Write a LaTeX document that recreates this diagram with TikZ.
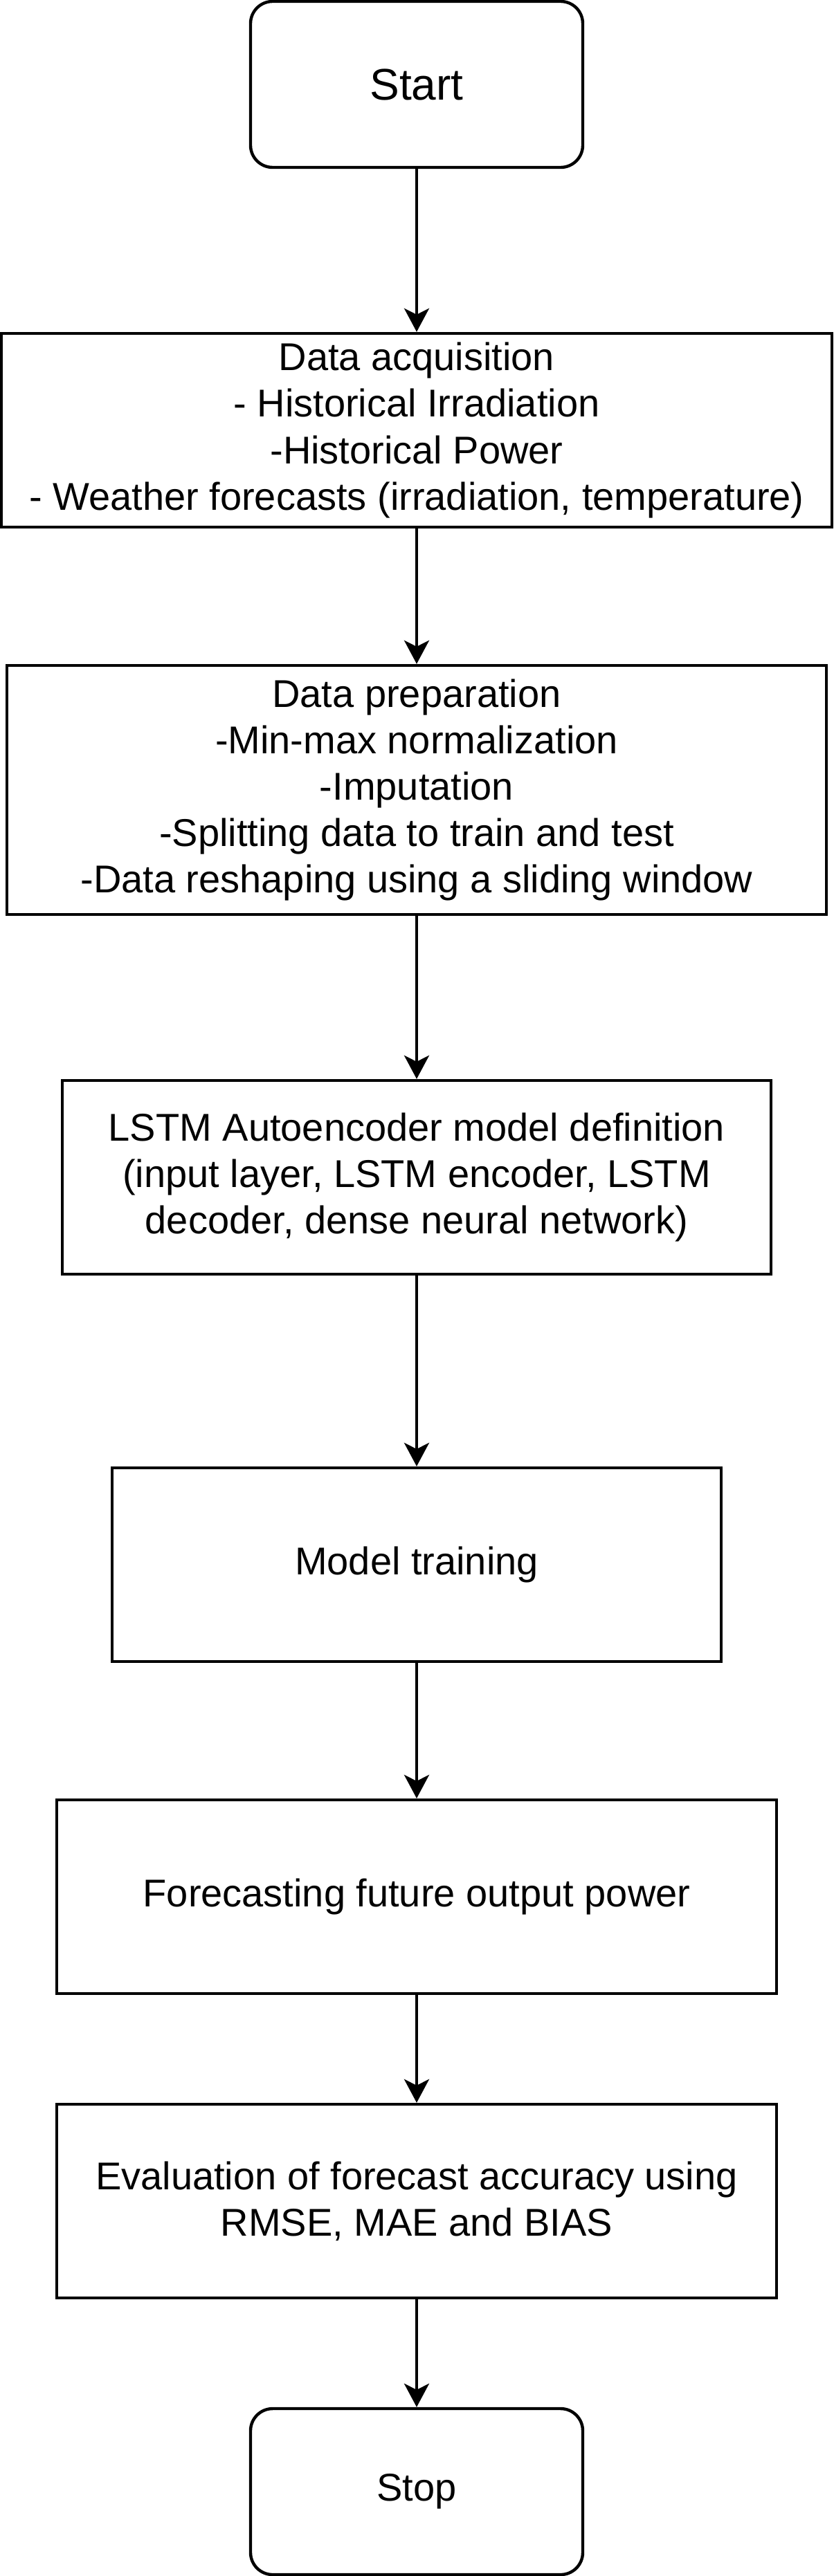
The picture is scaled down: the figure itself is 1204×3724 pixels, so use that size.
\documentclass[tikz,border=0pt]{standalone}
\usepackage{fontspec}
\setmainfont{Liberation Sans}
\usetikzlibrary{arrows.meta,positioning}

\begin{document}
\begin{tikzpicture}[x=0.5pt, y=-0.5pt, line width=2.2pt, >={Stealth[length=17pt,width=18pt,inset=4.5pt]},
  every text node part/.style={align=center}, font=\fontsize{28}{33.6}\selectfont,
  term/.style={draw, rectangle, rounded corners=16pt, minimum width=240pt, minimum height=120pt, inner sep=0pt},
  stage/.style={draw, rectangle, minimum height=140pt, inner sep=0pt}]
\useasboundingbox (0,0) rectangle (1204,3724);
\draw
  node (start) at (602,122)[term, font=\fontsize{32}{38.4}\selectfont]{Start}
  node (acq) at (602,622)[stage, minimum width=600pt]{Data acquisition\\- Historical Irradiation\\-Historical Power\\- Weather forecasts (irradiation, temperature)}
  node (prep) at (602,1142)[stage, minimum width=592pt, minimum height=180pt]{Data preparation\\-Min-max normalization\\-Imputation\\-Splitting data to train and test\\-Data reshaping using a sliding window}
  node (model) at (602,1702)[stage, minimum width=512pt]{LSTM Autoencoder model definition\\(input layer, LSTM encoder, LSTM\\decoder, dense neural network)}
  node (train) at (602,2262)[stage, minimum width=440pt]{Model training}
  node (fcast) at (602,2742)[stage, minimum width=520pt]{Forecasting future output power}
  node (eval) at (602,3182)[stage, minimum width=520pt]{Evaluation of forecast accuracy using\\RMSE, MAE and BIAS}
  node (stop) at (602,3602)[term]{Stop};
\draw[->] (start) -- (acq);
\draw[->] (acq) -- (prep);
\draw[->] (prep) -- (model);
\draw[->] (model) -- (train);
\draw[->] (train) -- (fcast);
\draw[->] (fcast) -- (eval);
\draw[->] (eval) -- (stop);
\end{tikzpicture}
\end{document}
